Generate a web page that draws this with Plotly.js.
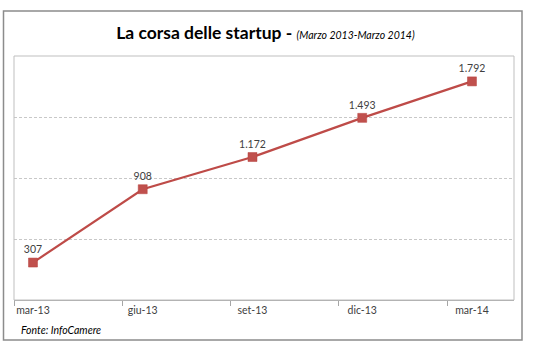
<!DOCTYPE html>
<html><head><meta charset="utf-8">
<script src="https://cdn.plot.ly/plotly-3.0.1.min.js"></script>
<style>html,body{margin:0;padding:0;background:#fff}#chart{width:534px;height:352px}</style>
</head><body><div id="chart"></div>
<script>
const categories = ['mar-13','giu-13','set-13','dic-13','mar-14'];
const startups = [307, 908, 1172, 1493, 1792];
const titleMain = 'La corsa delle startup - ';
const titleSub = '(Marzo 2013-Marzo 2014)';
const source = 'Fonte: InfoCamere';

const xi = categories.map((c,i)=>i);
const W=534,H=352,L=14,R=20,T=56,B=52;
const pw=W-L-R, ph=H-T-B;
const px = v => (v-L)/pw, py = v => (H-B-v)/ph;

const trace = {
  x: xi, y: startups, type:'scatter', mode:'lines+markers+text',
  line:{color:'#BE4B48', width:2.2},
  marker:{symbol:'square', size:9, color:'#C0504D', line:{color:'#B6423F',width:0.5}},
  texttemplate:'%{y:,}', textposition:'top center',
  textfont:{family:'Lato, sans-serif', size:10.5, color:'#404040'},
  cliponaxis:false, hoverinfo:'skip'
};

const layout = {
  width:W, height:H, margin:{l:L,r:R,t:T,b:B},
  paper_bgcolor:'#fff', plot_bgcolor:'#fff', showlegend:false,
  separators:',.',
  font:{family:'Lato, sans-serif', color:'#404040'},
  title:{text:'<b>'+titleMain+'</b><span style="font-size:10.5px"><i>'+titleSub+'</i></span>',
    font:{family:'Lato, sans-serif', size:17.5, color:'#000'},
    x:0.497, xref:'container', xanchor:'center', y:1-33/H, yref:'container', yanchor:'middle'},
  xaxis:{type:'linear', range:[-0.173, 4.383], tickvals:xi, ticktext:categories,
    ticks:'', showgrid:false, zeroline:false, showline:true, linecolor:'#A6A6A6', linewidth:1,
    tickfont:{family:'Lato, sans-serif', size:10.5, color:'#404040'},
    minor:{tick0:-0.173, dtick:0.987, ticks:'outside', ticklen:5, tickcolor:'#A6A6A6', showgrid:false}},
  yaxis:{range:[0,2000], dtick:500, showticklabels:false, ticks:'', zeroline:false,
    showgrid:true, gridcolor:'#C8C8C8', griddash:'3px,2px', gridwidth:1, showline:false},
  shapes:[
    {type:'rect', xref:'paper', yref:'paper', x0:0, x1:1, y0:0, y1:1, line:{color:'#BFBFBF', width:1}},
    {type:'rect', xref:'paper', yref:'paper', x0:px(3.5), x1:px(522), y0:py(340), y1:py(11), line:{color:'#8C8C8C', width:1.5}}
  ],
  annotations:[
    {text:'<i>'+source+'</i>', xref:'paper', yref:'paper', x:px(19), y:py(330), xanchor:'left', yanchor:'middle',
     showarrow:false, font:{family:'Lato, sans-serif', size:10.5, color:'#000'}}
  ]
};
Plotly.newPlot('chart',[trace],layout,{staticPlot:true,displayModeBar:false});
</script></body></html>
